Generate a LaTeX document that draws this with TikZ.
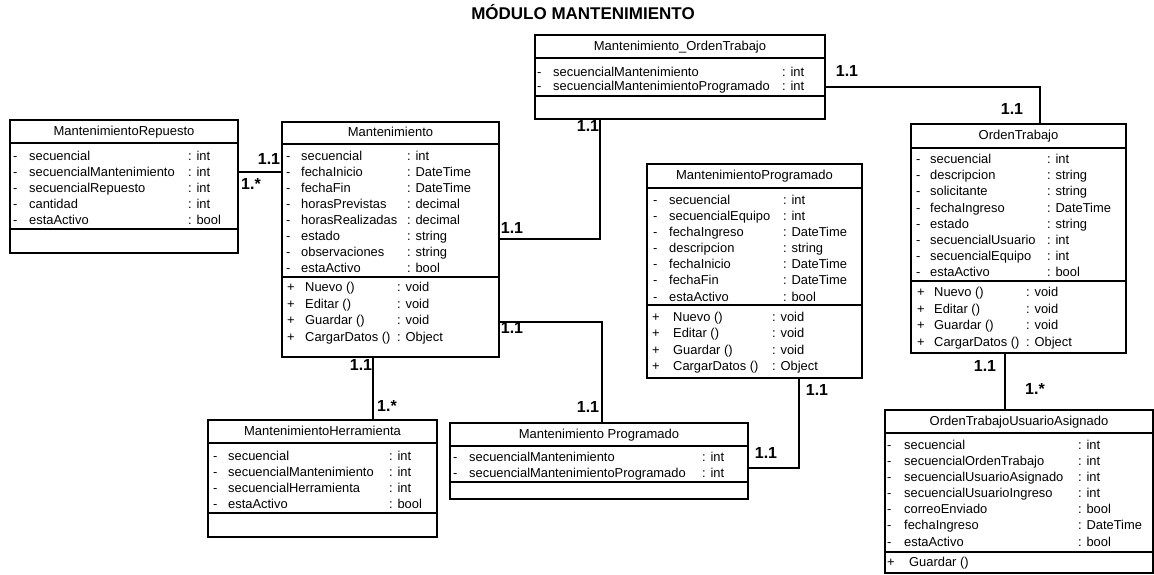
\documentclass[tikz,border=0pt]{standalone}
\usepackage{fontspec}
\setmainfont{Liberation Sans}
\usetikzlibrary{fit}

% class box: name, x1, y1, x2, y(header rule), y(attribute rule), y2, title
\newcommand\classbox[8]{%
  \node[box, fit={(#2,#3) (#4,#7)}] (#1) {};
  \draw[rule] (#1.west |- 0,#5) -- (#1.east |- 0,#5);
  \draw[rule] (#1.west |- 0,#6) -- (#1.east |- 0,#6);
  \node[ttl] (#1-title) at ({(#2+#4)/2},{(#3+#5)/2+1}) {#8};
}
% member rows: prefix, symbol, x symbol, x name, x colon, y first, row step, name/type list
\newcommand\members[8]{%
  \foreach \nm/\tp [count=\i from 0] in {#8} {
    \node[txt] (#1-s\i) at (#3,{#6+2.5+\i*#7}) {#2};
    \node[txt] (#1-n\i) at (#4,{#6+2.5+\i*#7}) {\nm};
    \node[txt] (#1-t\i) at (#5,{#6+2.5+\i*#7}) {: \tp};
  }%
}

\begin{document}
\begin{tikzpicture}[x=1pt,y=-1pt,
  box/.style={draw, line width=1.8pt, inner sep=0pt},
  rule/.style={line width=1.8pt},
  conn/.style={line width=1.8pt},
  txt/.style={anchor=mid west, inner sep=0pt, font=\fontsize{12.9}{15}\selectfont},
  ttl/.style={anchor=mid, inner sep=0pt, font=\fontsize{13}{15}\selectfont},
  mult/.style={anchor=mid, inner sep=0pt, font=\bfseries\fontsize{16}{18}\selectfont},
]
\useasboundingbox (0,0) rectangle (1154,575);

\node[anchor=mid, inner sep=0pt, font=\bfseries\fontsize{17}{20}\selectfont] (title) at (583,17) {MÓDULO MANTENIMIENTO};

% classes
\classbox{mrep}{10}{120}{238}{143}{229}{253}{MantenimientoRepuesto}
\members{mrep-a}{-}{13}{29}{188}{155}{16.1}{secuencial/int, secuencialMantenimiento/int, secuencialRepuesto/int, cantidad/int, estaActivo/bool}

\classbox{mant}{282}{122}{499}{144}{277}{357}{Mantenimiento}
\members{mant-a}{-}{286}{301}{407}{155}{16.0}{secuencial/int, fechaInicio/DateTime, fechaFin/DateTime, horasPrevistas/decimal, horasRealizadas/decimal, estado/string, observaciones/string, estaActivo/bool}
\members{mant-m}{+}{287}{305}{397}{286.7}{16.5}{Nuevo ()/void, Editar ()/void, Guardar ()/void, CargarDatos ()/Object}

\classbox{mot}{535}{35}{825}{58}{96}{119}{Mantenimiento\_OrdenTrabajo}
\members{mot-a}{-}{537}{553}{782}{71.7}{14}{secuencialMantenimiento/int, secuencialMantenimientoProgramado/int}

\classbox{ot}{911}{124}{1126}{148}{281}{353}{OrdenTrabajo}
\members{ot-a}{-}{916}{930}{1047}{158.3}{16.2}{secuencial/int, descripcion/string, solicitante/string, fechaIngreso/DateTime, estado/string, secuencialUsuario/int, secuencialEquipo/int, estaActivo/bool}
\members{ot-m}{+}{917}{934}{1026}{291.7}{16.4}{Nuevo ()/void, Editar ()/void, Guardar ()/void, CargarDatos ()/Object}

\classbox{mprog}{647}{164}{862}{188}{305}{378}{MantenimientoProgramado}
\members{mprog-a}{-}{653}{669}{783}{199.3}{16.1}{secuencial/int, secuencialEquipo/int, fechaIngreso/DateTime, descripcion/string, fechaInicio/DateTime, fechaFin/DateTime, estaActivo/bool}
\members{mprog-m}{+}{652}{673}{772}{316.7}{16.1}{Nuevo ()/void, Editar ()/void, Guardar ()/void, CargarDatos ()/Object}

\classbox{otua}{885}{410}{1153}{433}{552}{573}{OrdenTrabajoUsuarioAsignado}
\members{otua-a}{-}{887}{904}{1078}{444.3}{16.1}{secuencial/int, secuencialOrdenTrabajo/int, secuencialUsuarioAsignado/int, secuencialUsuarioIngreso/int, correoEnviado/bool, fechaIngreso/DateTime, estaActivo/bool}
\node[txt] (otua-m-s0) at (887,564) {+};
\node[txt] (otua-m-n0) at (909,564) {Guardar ()};

\classbox{mherr}{208}{420}{437}{443}{513}{537}{MantenimientoHerramienta}
\members{mherr-a}{-}{213}{228}{389}{455}{16}{secuencial/int, secuencialMantenimiento/int, secuencialHerramienta/int, estaActivo/bool}

\classbox{mpr}{450}{423}{748}{446}{482}{499}{Mantenimiento Programado}
\members{mpr-a}{-}{453}{469}{702}{456}{16}{secuencialMantenimiento/int, secuencialMantenimientoProgramado/int}

% associations
\draw[conn] (mrep.east |- 0,172) -- (mant.west |- 0,172);
\draw[conn] (mant.east |- 0,239) -| (mot.south -| 600,0);
\draw[conn] (mot.east |- 0,87) -| (ot.north -| 1040,0);
\draw[conn] (mant.east |- 0,322) -| (mpr.north -| 602,0);
\draw[conn] (mant.south -| 373,0) -- (mherr.north -| 373,0);
\draw[conn] (mprog.south -| 799,0) |- (mpr.east |- 0,468);
\draw[conn] (ot.south -| 1005,0) -- (otua.north -| 1005,0);

% multiplicities
\node[mult] (m1) at (269,162) {1.1};
\node[mult] (m2) at (251,187) {1.*};
\node[mult] (m3) at (512,231) {1.1};
\node[mult] (m4) at (588,129) {1.1};
\node[mult] (m5) at (847,74) {1.1};
\node[mult] (m6) at (1012,112) {1.1};
\node[mult] (m7) at (512,331) {1.1};
\node[mult] (m8) at (588,410) {1.1};
\node[mult] (m9) at (361,368) {1.1};
\node[mult] (m10) at (387,409) {1.*};
\node[mult] (m11) at (817,393) {1.1};
\node[mult] (m12) at (766,456) {1.1};
\node[mult] (m13) at (985,369) {1.1};
\node[mult] (m14) at (1035,392) {1.*};
\end{tikzpicture}
\end{document}
